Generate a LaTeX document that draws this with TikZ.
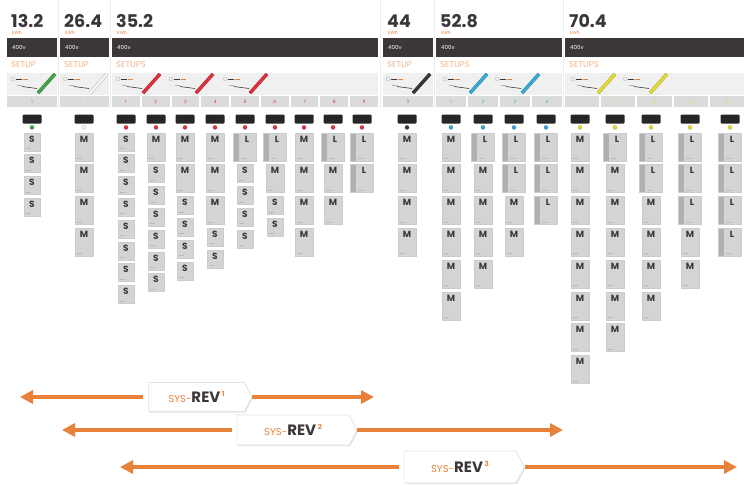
\documentclass[tikz,border=0pt]{standalone}
\usepackage{fontspec}
\setmainfont{Poppins}
\usetikzlibrary{arrows.meta,positioning,shapes.symbols,shadows}

\definecolor{revorange}{HTML}{E8813A}
\definecolor{bardark}{HTML}{3B3637}
\definecolor{modgray}{HTML}{D4D4D4}
\definecolor{setgreen}{HTML}{3FA548}
\definecolor{setred}{HTML}{E0303C}
\definecolor{setblue}{HTML}{3AA8D8}
\definecolor{setyellow}{HTML}{E2DC34}
\definecolor{setwhite}{HTML}{F6F6F6}

\tikzset{
  valtext/.style={font=\bfseries\fontsize{17.5}{17.5}\selectfont, text=bardark, inner sep=0pt, text depth=0pt, anchor=base west},
  unittext/.style={font=\fontsize{4.5}{5}\selectfont, text=revorange, inner sep=0pt, text height=3pt, text depth=0pt, anchor=base west},
  volttext/.style={font=\fontsize{5.5}{6}\selectfont, text=white, inner sep=0pt, anchor=west},
  setuptext/.style={font=\fontsize{8.5}{8.5}\selectfont, text=revorange!60, inner sep=0pt, anchor=west},
  numcell/.style={fill=gray!28, minimum height=11pt, inner sep=0pt, font=\fontsize{4.5}{5}\selectfont},
  capbar/.style={fill=black!85, rounded corners=1pt, minimum width=19pt, minimum height=9pt, inner sep=0pt},
  plug/.style={circle, fill=#1, draw=#1!70!black, line width=0.2pt, minimum size=4pt, inner sep=0pt},
  modbase/.style={fill=modgray, draw=gray!40, line width=0.3pt, inner xsep=0pt, inner ysep=3pt,
    font=\bfseries\fontsize{9}{9}\selectfont, text=gray!45!black, text height=6.5pt,
    path picture={\draw[gray!55, line width=0.5pt] ([xshift=2pt,yshift=2.5pt]path picture bounding box.south west) -- ++(5pt,0);}},
  modS/.style={modbase, minimum width=16pt, text depth=5.5pt},
  modM/.style={modbase, minimum width=18pt, text depth=15.5pt},
  modL/.style={modbase, minimum width=23pt, text depth=15.5pt, execute at begin node={\hspace*{4pt}},
    path picture={\fill[gray!62] (path picture bounding box.south west) rectangle ([xshift=5pt]path picture bounding box.north west);
      \draw[gray!55, line width=0.5pt] ([xshift=7pt,yshift=2.5pt]path picture bounding box.south west) -- ++(5pt,0);}},
  modkind/.style={mod#1},
  revbox/.style={signal, signal to=east, signal pointer angle=125, fill=white, draw=gray!22, line width=0.6pt,
    drop shadow={opacity=0.22, shadow xshift=1.2pt, shadow yshift=-1.2pt}, minimum width=#1, inner sep=0pt},
  revline/.style={draw=revorange, line width=4pt, -{Triangle[length=13pt,width=13pt]}},
  sepline/.style={gray!15, line width=0.6pt}
}

% header of one group of setups
\newcommand\grouphead[5]{%
  \node[valtext] (#1val) at (#2+4,27) {#4};
  \node[unittext] (#1unit) at (#2+5,34.5) {kWh};
  \fill[bardark] (#2,38) rectangle (#3,57);
  \node[volttext] (#1volt) at (#2+5,47.5) {400v};
  \node[setuptext] (#1setup) at (#2+4,64.5) {#5};
  \fill[gray!12] (#2,73) rectangle (#3,94.5);
}
% small setup icon with its slash
\newcommand\setupmark[2]{%
  \draw[gray!55, line width=0.4pt] (#1+3,79) circle (2pt);
  \draw[bardark, line width=0.8pt] (#1+6,79) -- (#1+12,79);
  \draw[revorange, line width=0.8pt] (#1+12.5,79) -- (#1+18,79);
  \draw[gray!60, line width=0.5pt] (#1+7,85) -- (#1+12,85);
  \draw[bardark, line width=0.6pt] (#1+12,86.5) -- (#1+27,88.5);
  \draw[#2!75!black, line width=3.4pt] (#1+28,93) -- (#1+45,74);
  \draw[#2, line width=2.4pt] (#1+28,93) -- (#1+45,74);
}
\newcommand\numcells[5]{%
  \pgfmathsetmacro\cw{(#3-#2-2*(#4-1))/#4}
  \foreach \k in {1,...,#4}{
    \pgfmathsetmacro\cx{#2+(\k-1)*(\cw+2)+\cw/2}
    \node[numcell, minimum width=\cw pt, text=#5] (#1cell\k) at (\cx,101.5) {\k};
  }
}
\newcommand\modstack[4]{%
  \node[capbar] (#1cap) at (#2,119) {};
  \node[plug=#3, below=1.6pt of #1cap] (#1plug) {};
  \foreach \t [count=\i, remember=\i as \j (initially 0)] in {#4}{
    \ifnum\i=1
      \node[modkind/.expand once=\t, below=3pt of #1plug] (#1m\i) {\t};
    \else
      \node[modkind/.expand once=\t, below=3.5pt of #1m\j] (#1m\i) {\t};
    \fi
  }
}
\newcommand\revlabel[1]{{\fontsize{10}{10}\selectfont\color{revorange}SYS-}{\bfseries\fontsize{15}{15}\selectfont\color{bardark}REV}\,\raisebox{6pt}{\bfseries\fontsize{7}{7}\selectfont\color{revorange}#1}}

\begin{document}
\begin{tikzpicture}[x=1pt,y=-1pt]
\useasboundingbox (0,0) rectangle (744,485);

% top band
\foreach \sx in {58.5,110.5,380.5,434.5,563.5}
  \draw[sepline] (\sx,0) -- (\sx,107);

\grouphead{ga}{7}{57}{13.2}{SETUP}
\grouphead{gb}{60}{109}{26.4}{SETUP}
\grouphead{gc}{112}{378}{35.2}{SETUPS}
\grouphead{gd}{383}{433}{44}{SETUP}
\grouphead{ge}{436}{562}{52.8}{SETUPS}
\grouphead{gf}{565}{744}{70.4}{SETUPS}

\setupmark{10}{setgreen}
\setupmark{62}{setwhite}
\setupmark{115}{setred}
\setupmark{168}{setred}
\setupmark{222}{setred}
\setupmark{385}{bardark}
\setupmark{442}{setblue}
\setupmark{494}{setblue}
\setupmark{570}{setyellow}
\setupmark{622}{setyellow}

\numcells{ga}{7}{57}{1}{setgreen}
\numcells{gb}{60}{109}{1}{white}
\numcells{gc}{112}{378}{9}{setred}
\numcells{gd}{383}{433}{1}{bardark}
\numcells{ge}{436}{562}{4}{setblue}
\numcells{gf}{565}{744}{5}{setyellow}

% module stacks
\modstack{gaa}{32}{setgreen}{S,S,S,S}
\modstack{gba}{84}{setwhite}{M,M,M,M}
\modstack{gca}{126}{setred}{S,S,S,S,S,S,S,S}
\modstack{gcb}{156}{setred}{M,S,S,S,S,S,S}
\modstack{gcc}{185}{setred}{M,M,S,S,S,S}
\modstack{gcd}{215}{setred}{M,M,M,S,S}
\modstack{gce}{245}{setred}{L,S,S,S,S}
\modstack{gcf}{275}{setred}{L,M,S,S}
\modstack{gcg}{304}{setred}{M,M,M,M}
\modstack{gch}{333}{setred}{L,M,M}
\modstack{gci}{362}{setred}{L,L}
\modstack{gda}{407}{bardark}{M,M,M,M}
\modstack{gea}{451}{setblue}{M,M,M,M,M,M}
\modstack{geb}{483}{setblue}{L,M,M,M,M}
\modstack{gec}{514}{setblue}{L,L,M,M}
\modstack{ged}{546}{setblue}{L,L,L}
\modstack{gfa}{580}{setyellow}{M,M,M,M,M,M,M,M}
\modstack{gfb}{615}{setyellow}{L,M,M,M,M,M,M}
\modstack{gfc}{651}{setyellow}{L,L,M,M,M,M}
\modstack{gfd}{690}{setyellow}{L,L,L,M,M}
\modstack{gfe}{730}{setyellow}{L,L,L,L}

% revision ranges
\node[revbox=103pt, minimum height=29pt] (rev1) at (196.5,397) {\revlabel{1}};
\coordinate (rev1l) at (20,397);
\coordinate (rev1r) at (374,397);
\draw[revline, shorten <=5pt] (rev1.west) -- (rev1l);
\draw[revline] (rev1.east) -- (rev1r);

\node[revbox=120pt, minimum height=30pt] (rev2) at (293,430) {\revlabel{2}};
\coordinate (rev2l) at (62,430);
\coordinate (rev2r) at (563,430);
\draw[revline, shorten <=5pt] (rev2.west) -- (rev2l);
\draw[revline] (rev2.east) -- (rev2r);

\node[revbox=120pt, minimum height=32pt] (rev3) at (460,467) {\revlabel{3}};
\coordinate (rev3l) at (120,467);
\coordinate (rev3r) at (737,467);
\draw[revline, shorten <=5pt] (rev3.west) -- (rev3l);
\draw[revline] (rev3.east) -- (rev3r);
\end{tikzpicture}
\end{document}
